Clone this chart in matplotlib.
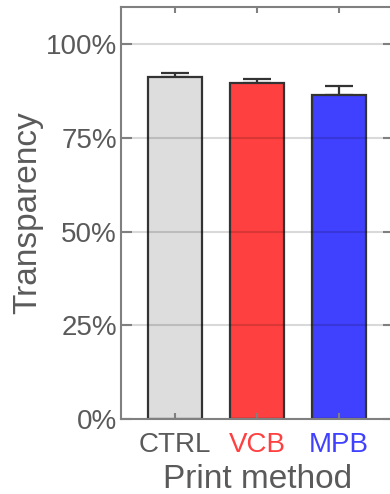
import matplotlib.pyplot as plt
import numpy as np

plt.rcParams['font.family'] = ['Liberation Sans', 'DejaVu Sans']

# transparency per print method (fraction), upper error only
methods = ['CTRL', 'VCB', 'MPB']
means = [0.9135, 0.8967, 0.8655]
errs = [0.009, 0.0115, 0.0224]
bar_colors = ['#dddddd', '#ff4040', '#4040ff']
label_colors = ['#5a5a5a', '#ff4040', '#4040ff']
yticks = [0, 0.25, 0.5, 0.75, 1.0]
ytick_labels = ['0%', '25%', '50%', '75%', '100%']

fig = plt.figure(figsize=(3.9, 4.94), dpi=100)
ax = fig.add_axes([121 / 390, 75 / 494, 273 / 390, 412 / 494])

x = np.arange(1, len(methods) + 1)
ax.bar(x, means, width=0.66, color=bar_colors, edgecolor='#333333',
       linewidth=1.6, zorder=2)
ax.errorbar(x, means, yerr=[np.zeros(len(errs)), errs], fmt='none',
            ecolor='#333333', elinewidth=1.6, capsize=10, capthick=1.6,
            zorder=1)

ax.set_xlim(0.34, 3.67)
ax.set_ylim(0, 1.0996)
ax.set_yticks(yticks)
ax.set_yticklabels(ytick_labels)
ax.set_xticks(x)
ax.set_xticklabels(methods)
for lbl, c in zip(ax.get_xticklabels(), label_colors):
    lbl.set_color(c)

# grid drawn over the bars, faint
ax.yaxis.grid(True, color='black', alpha=0.15, linewidth=1.5, zorder=3)
ax.set_axisbelow(False)

for s in ax.spines.values():
    s.set_color('#808080')
    s.set_linewidth(1.5)
    s.set_zorder(4)

ax.tick_params(axis='y', direction='in', length=8, width=1.5, color='#808080',
               labelsize=20, labelcolor='#5a5a5a', left=True, right=True, pad=3)
ax.tick_params(axis='x', direction='in', length=4, width=1.5, color='#808080',
               labelsize=20, top=True, bottom=True, pad=9)

ax.set_xlabel('Print method', fontsize=24, color='#5a5a5a', labelpad=5)
ax.set_ylabel('Transparency', fontsize=24, color='#5a5a5a', labelpad=2)

fig.savefig('out.png', dpi=100)
